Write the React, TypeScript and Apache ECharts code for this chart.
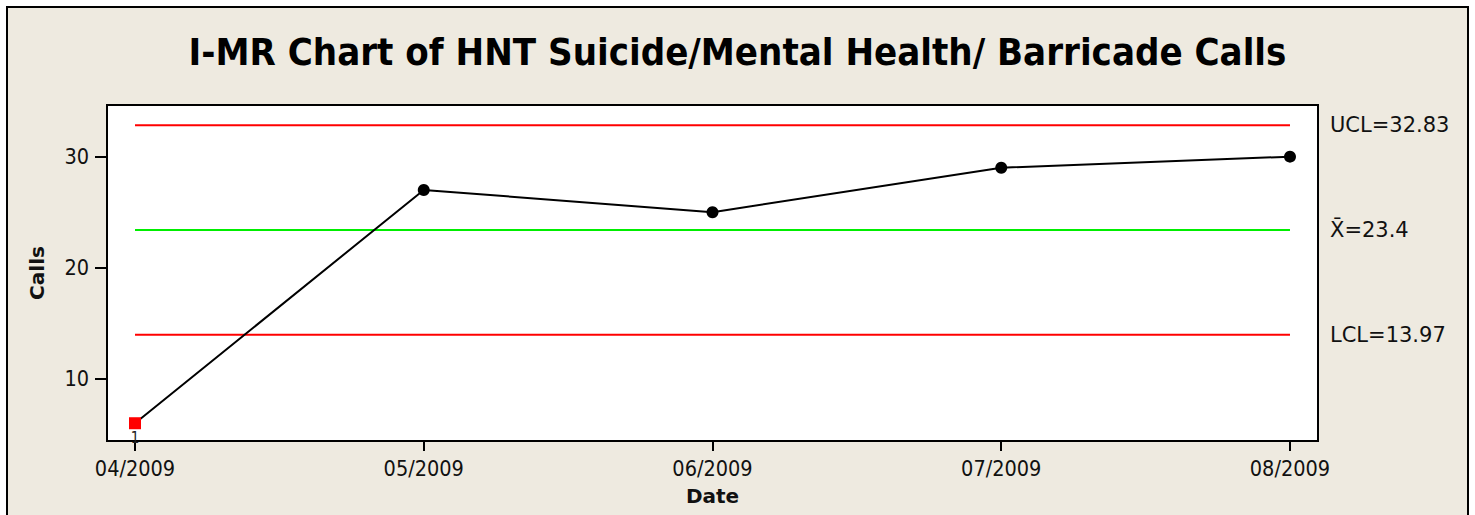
import React, { useEffect, useRef } from "react";
import * as echarts from "echarts";

const categories = ["04/2009", "05/2009", "06/2009", "07/2009", "08/2009"];
const calls = [6, 27, 25, 29, 30];
const ucl = 32.83;
const mean = 23.4;
const lcl = 13.97;
const yTicks = [10, 20, 30];
const failedIndex = 0;
const failedLabel = "1";

const FONT = "'DejaVu Sans Condensed', 'DejaVu Sans', sans-serif";

export default function App() {
  const ref = useRef<HTMLDivElement>(null);
  useEffect(() => {
    if (!ref.current) return;
    const chart = echarts.init(ref.current, null, { renderer: "svg" });
    const idx = categories.map((_, i) => i);
    const pts = calls.map((v, i) =>
      i === failedIndex
        ? { value: [i, v], symbol: "none", symbolSize: 0 }
        : { value: [i, v] }
    );
    const ctrl = (val: number, color: string, text: string) => ({
      type: "line",
      data: [
        [0, val],
        [categories.length - 1, val],
      ],
      symbol: "none",
      silent: true,
      lineStyle: { color, width: 2 },
      endLabel: {
        show: true,
        formatter: text,
        distance: 40,
        fontFamily: "'DejaVu Sans', sans-serif",
        fontSize: 21,
        color: "#111",
      },
      z: 1,
    });
    chart.setOption({
      animation: false,
      backgroundColor: "transparent",
      title: {
        text: "I-MR Chart of HNT Suicide/Mental Health/ Barricade Calls",
        left: "center",
        top: 28,
        textStyle: {
          fontFamily: FONT,
          fontWeight: "bold",
          fontSize: 38,
          color: "#000",
        },
      },
      grid: {
        left: 107,
        top: 105,
        right: 157,
        bottom: 74,
        show: true,
        backgroundColor: "#ffffff",
        borderColor: "#000",
        borderWidth: 2,
        outerBoundsMode: "none",
      },
      xAxis: {
        type: "value",
        min: -0.097,
        max: categories.length - 1 + 0.097,
        name: "Date",
        nameLocation: "middle",
        nameGap: 45,
        nameTextStyle: {
          fontFamily: "'DejaVu Sans', sans-serif",
          fontWeight: "bold",
          fontSize: 20,
          color: "#111",
        },
        axisLine: { show: true, onZero: false, lineStyle: { color: "#000", width: 2 } },
        axisTick: {
          show: true,
          length: 10,
          customValues: idx,
          lineStyle: { color: "#000", width: 2 },
        },
        axisLabel: {
          customValues: idx,
          margin: 16,
          formatter: (v: number) => categories[Math.round(v)] ?? "",
          fontFamily: FONT,
          fontSize: 21.5,
          color: "#111",
        },
        splitLine: { show: false },
      },
      yAxis: {
        type: "value",
        min: 4.4,
        max: 34.65,
        name: "Calls",
        nameLocation: "middle",
        nameGap: 60,
        nameTextStyle: {
          fontFamily: "'DejaVu Sans', sans-serif",
          fontWeight: "bold",
          fontSize: 20,
          color: "#111",
        },
        axisLine: { show: true, onZero: false, lineStyle: { color: "#000", width: 2 } },
        axisTick: {
          show: true,
          length: 12,
          customValues: yTicks,
          lineStyle: { color: "#000", width: 2 },
        },
        axisLabel: {
          customValues: yTicks,
          margin: 18,
          fontFamily: FONT,
          fontSize: 21.5,
          color: "#111",
        },
        splitLine: { show: false },
      },
      series: [
        ctrl(ucl, "#ff0000", "UCL=" + ucl),
        ctrl(mean, "#00ee00", "X\u0304=" + mean),
        ctrl(lcl, "#ff0000", "LCL=" + lcl),
        {
          type: "line",
          data: pts,
          clip: false,
          symbol: "circle",
          symbolSize: 12,
          lineStyle: { color: "#000", width: 2 },
          itemStyle: { color: "#000" },
          z: 3,
        },
        {
          type: "scatter",
          data: [[failedIndex, calls[failedIndex]]],
          clip: false,
          symbol: "rect",
          symbolSize: 12,
          itemStyle: { color: "#ff0000", opacity: 1 },
          label: {
            show: true,
            position: "bottom",
            distance: 1,
            formatter: failedLabel,
            fontFamily: FONT,
            fontSize: 15,
            color: "#222",
          },
          z: 10,
        },
      ],
    });
    return () => chart.dispose();
  }, []);
  return (
    <div
      style={{
        position: "fixed",
        left: 0,
        top: 0,
        width: 1475,
        height: 515,
        background: "#ffffff",
        overflow: "hidden",
      }}
    >
      <div
        style={{
          position: "absolute",
          left: 6,
          top: 6,
          width: 1463,
          height: 530,
          background: "#eeeae0",
          border: "2px solid #000",
          boxSizing: "border-box",
        }}
      />
      <div
        ref={ref}
        style={{ position: "absolute", left: 0, top: 0, width: 1475, height: 515 }}
      />
    </div>
  );
}
